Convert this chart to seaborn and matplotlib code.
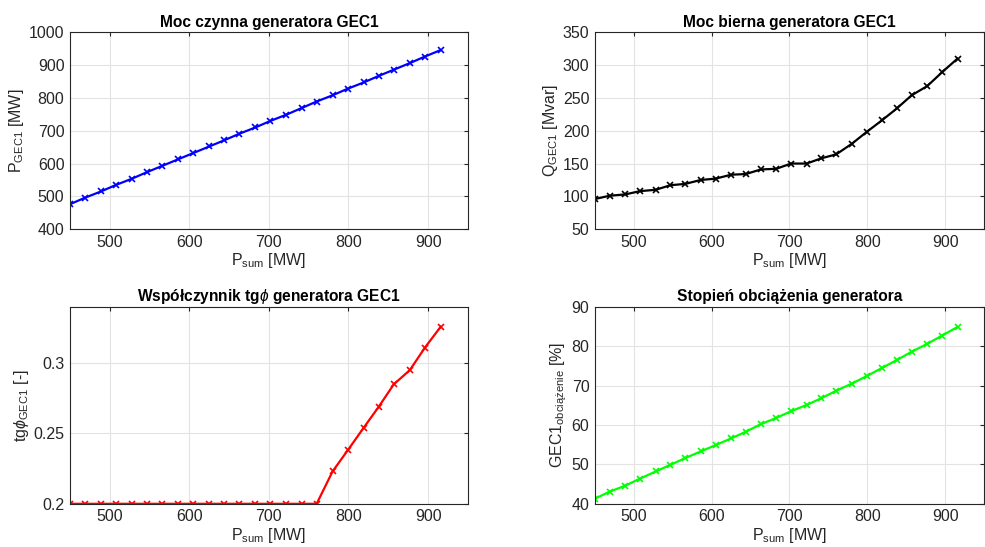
import numpy as np
import pandas as pd
import matplotlib
matplotlib.use("Agg")
import matplotlib.pyplot as plt
import seaborn as sns

# ── data ───────────────────────────────────────────────────────
p_sum = [450, 469, 489, 508, 528, 547, 566, 586, 605, 625, 644, 663, 683,
         702, 722, 741, 760, 780, 799, 819, 838, 857, 877, 896, 916]
p_gec1 = [476, 496, 515, 535, 554, 574, 593, 613, 632, 652, 671, 691, 710,
          730, 749, 769, 789, 808, 828, 847, 867, 886, 906, 926, 946]
q_gec1 = [96, 101, 103, 108, 110, 117, 119, 125, 127, 133, 134, 141, 142,
          150, 150, 158, 164, 180, 198, 216, 234, 254, 268, 289, 310]
tg_phi = [0.2, 0.2, 0.2, 0.2, 0.2, 0.2, 0.2, 0.2, 0.2, 0.2, 0.2, 0.2, 0.2,
          0.2, 0.2, 0.2, 0.2, 0.223, 0.238, 0.254, 0.269, 0.285, 0.295, 0.311, 0.326]
load_pct = [41.3, 43.1, 44.6, 46.4, 48.2, 49.9, 51.6, 53.3, 54.9, 56.6, 58.3, 60.2, 61.8,
            63.5, 65.1, 66.8, 68.7, 70.5, 72.4, 74.5, 76.5, 78.6, 80.6, 82.7, 84.9]

df = pd.DataFrame({"p_sum": p_sum, "p_gec1": p_gec1, "q_gec1": q_gec1,
                   "tg_phi": tg_phi, "load": load_pct})

sns.set_style("white")
plt.rcParams["font.family"] = ["Liberation Sans", "DejaVu Sans"]
plt.rcParams["mathtext.fontset"] = "custom"
plt.rcParams["mathtext.rm"] = "Liberation Sans"
plt.rcParams["mathtext.it"] = "Liberation Sans:italic"
plt.rcParams["mathtext.default"] = "regular"

TXT = "#262626"
XLABEL = r"P$_{\mathrm{sum}}$ [MW]"

panels = [
    # col, color, title, ylabel, ylim, yticks, axes rect
    ("p_gec1", "#0000ff", "Moc czynna generatora GEC1", r"P$_{\mathrm{GEC1}}$ [MW]",
     (400, 1000), np.arange(400, 1001, 100), [0.071, 0.581, 0.404, 0.360]),
    ("q_gec1", "#000000", "Moc bierna generatora GEC1", r"Q$_{\mathrm{GEC1}}$ [Mvar]",
     (50, 350), np.arange(50, 351, 50), [0.604, 0.581, 0.395, 0.360]),
    ("tg_phi", "#ff0000", r"Współczynnik tg$\it{\phi}$ generatora GEC1",
     r"tg$\it{\phi}_{\mathrm{GEC1}}$ [-]",
     (0.2, 0.34), [0.2, 0.25, 0.3], [0.071, 0.079, 0.404, 0.360]),
    ("load", "#00ff00", "Stopień obciążenia generatora", r"GEC1$_{\mathrm{obciążenie}}$ [%]",
     (40, 90), np.arange(40, 91, 10), [0.604, 0.079, 0.395, 0.360]),
]

fig = plt.figure(figsize=(9.85, 5.47), dpi=100)

for col, color, title, ylabel, ylim, yticks, rect in panels:
    ax = fig.add_axes(rect)
    sns.lineplot(data=df, x="p_sum", y=col, ax=ax, color=color, lw=1.6,
                 marker="x", markersize=4, markeredgewidth=1.2,
                 markeredgecolor=color)
    ax.set_xlim(450, 950)
    ax.set_ylim(*ylim)
    ax.set_xticks([500, 600, 700, 800, 900])
    ax.set_yticks(yticks)
    if col == "tg_phi":
        ax.set_yticklabels(["0.2", "0.25", "0.3"])
    ax.grid(True, color="#e3e3e3", lw=0.8)
    ax.tick_params(direction="in", length=3, top=True, right=True, pad=4,
                   labelsize=11.5, colors=TXT, labelcolor=TXT)
    for sp in ax.spines.values():
        sp.set_color(TXT)
        sp.set_linewidth(0.8)
    ax.set_title(title, fontsize=11.2, fontweight="bold", color="black", pad=4)
    ax.set_xlabel(XLABEL, fontsize=11.5, color=TXT, labelpad=1)
    ax.set_ylabel(ylabel, fontsize=11.5, color=TXT, labelpad=2)

plt.savefig("out.png", dpi=100)
plt.close()
